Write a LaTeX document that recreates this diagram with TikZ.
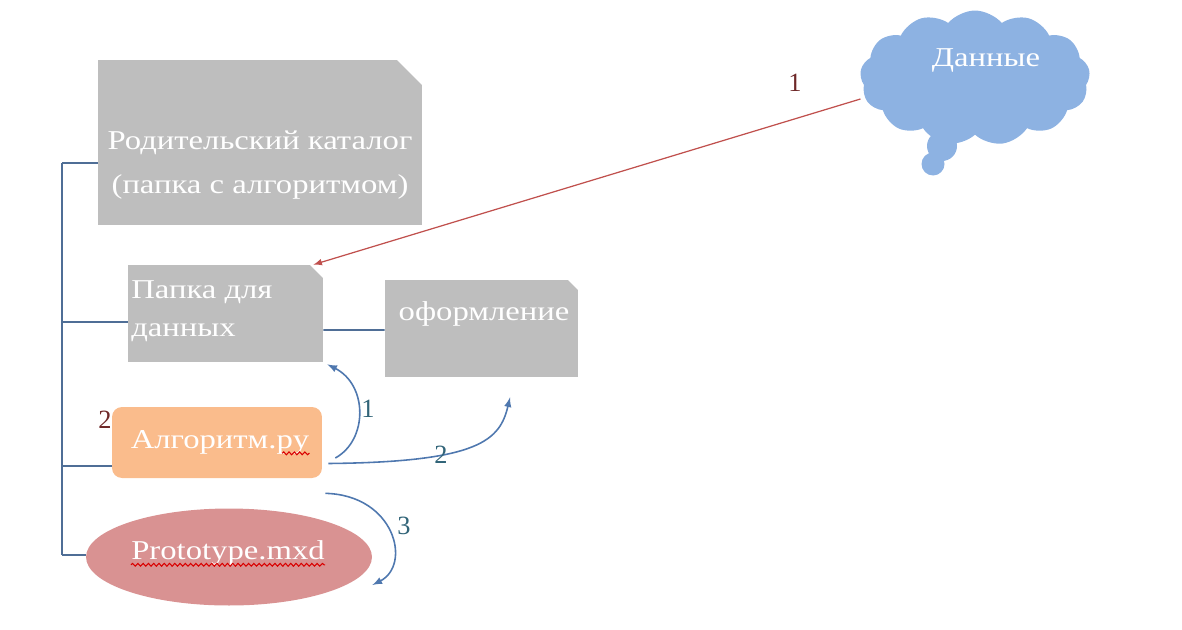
\documentclass[tikz,border=0pt]{standalone}
\usepackage{fontspec}
\setmainfont{Liberation Serif}
\usetikzlibrary{positioning,shapes,arrows,decorations.pathmorphing}

\definecolor{foldergray}{RGB}{190,190,190}
\definecolor{algoorange}{RGB}{250,188,140}
\definecolor{protopink}{RGB}{217,146,146}
\definecolor{cloudblue}{RGB}{141,178,226}
\definecolor{treeblue}{RGB}{79,110,150}
\definecolor{flowblue}{RGB}{79,120,175}
\definecolor{feedred}{RGB}{192,80,77}
\definecolor{numred}{RGB}{110,40,40}
\definecolor{numteal}{RGB}{49,100,120}

% slightly widened serif text
\newcommand{\wtxt}[1]{\scalebox{1.2}[1]{#1}}

\tikzset{
  % gray folder with the top right corner cut off
  folderbox/.style={rectangle, inner sep=0pt,
    path picture={\fill[foldergray] (path picture bounding box.south west)
      -- (path picture bounding box.north west)
      -- ([xshift=-#1]path picture bounding box.north east)
      -- ([yshift=-#1]path picture bounding box.north east)
      -- (path picture bounding box.south east) -- cycle;}},
  whitetext/.style={text=white, font=\fontsize{15.5}{25}\selectfont, inner sep=0pt},
  treeline/.style={draw=treeblue, line width=1.1pt},
  flowarrow/.style={draw=flowblue, line width=0.9pt, -latex},
  steplabel/.style={font=\fontsize{15}{18}\selectfont, inner sep=0pt},
  spellmark/.style={draw=red!85!black, line width=0.6pt, decorate,
    decoration={snake, segment length=3pt, amplitude=0.8pt}}
}

\begin{document}
\begin{tikzpicture}[x=0.02cm, y=-0.02cm]
\useasboundingbox (0,0) rectangle (1182,629);

% folders
\node[folderbox=0.5cm, minimum width=6.48cm, minimum height=3.3cm] (parent) at (260,142.5) {};
\node[folderbox=0.26cm, minimum width=3.9cm, minimum height=1.94cm] (data) at (225.5,313.5) {};
\node[folderbox=0.2cm, minimum width=3.86cm, minimum height=1.94cm] (design) at (481.5,328.5) {};

% files
\node[rectangle, rounded corners=0.2cm, fill=algoorange, minimum width=4.2cm,
  minimum height=1.42cm] (algo) at (217,442.5) {};
\node[ellipse, fill=protopink, inner sep=0pt, minimum width=5.72cm,
  minimum height=1.94cm] (proto) at (229,557) {};

% data source
\node[cloud, cloud puffs=13, cloud puff arc=100, aspect=1.6, fill=cloudblue,
  minimum width=4.6cm, minimum height=2.7cm] (source) at (975,78) {};
\fill[cloudblue] (942,146) circle[radius=0.3cm];
\fill[cloudblue] (933,164) circle[radius=0.23cm];

% texts
\node[whitetext, align=center] (parent-text) at (260,165)
  {\wtxt{Родительский каталог}\\ \wtxt{(папка с алгоритмом)}};
\node[whitetext, align=left, anchor=west,
  font=\fontsize{15.5}{21.5}\selectfont] (data-text) at (131,311)
  {\wtxt{Папка для}\\ \wtxt{данных}};
\node[whitetext] (design-text) at (484,314) {\wtxt{оформление}};
\node[whitetext] (algo-text) at (220,442) {\wtxt{Алгоритм.py}};
\node[whitetext] (proto-text) at (228,553) {\wtxt{Prototype.mxd}};
\node[whitetext] (source-text) at (986,60) {\wtxt{Данные}};

\draw[spellmark] ([xshift=-0.55cm, yshift=-3pt]algo-text.base east) -- ([yshift=-3pt]algo-text.base east);
\draw[spellmark] ([yshift=-3pt]proto-text.base west) -- ([yshift=-3pt]proto-text.base east);

% directory tree
\coordinate (t1) at (62,163);
\coordinate (t2) at (62,322);
\coordinate (t3) at (62,466);
\coordinate (t4) at (62,555);
\draw[treeline] (t1) -- (t4);
\draw[treeline] (t1) -- (t1 -| parent.west);
\draw[treeline] (t2) -- (t2 -| data.west);
\draw[treeline] (t3) -- (t3 -| algo.west);
\draw[treeline] (t4) -- (t4 -| proto.west);
\draw[treeline] ([yshift=-0.33cm]data.east) -- ([yshift=-0.03cm]design.west);

% data goes into the folder
\draw[draw=feedred, line width=0.7pt, -latex] ([yshift=-0.42cm]source.west) -- ([xshift=-0.2cm]data.north east);
\node[steplabel, text=numred] (feed-num) at (795,83) {1};

% steps of the algorithm
\draw[flowarrow] ([shift={(0.26cm,-0.31cm)}]algo.east) .. controls (368,440) and (368,385) .. ([shift={(0.08cm,-0.04cm)}]data.south east);
\draw[flowarrow] ([shift={(0.12cm,-0.42cm)}]algo.east) .. controls (480,462) and (500,440) .. ([shift={(0.57cm,-0.4cm)}]design.south);
\draw[flowarrow] ([shift={(0.06cm,-0.3cm)}]algo.south east) .. controls (395,495) and (412,565) .. ([yshift=-0.56cm]proto.east);
\node[steplabel, text=numteal] (step-one) at (368,409) {1};
\node[steplabel, text=numteal] (step-two) at (441,455) {2};
\node[steplabel, text=numteal] (step-three) at (404,526) {3};
\node[steplabel, text=numred] (algo-num) at (105,420) {2};
\end{tikzpicture}
\end{document}
